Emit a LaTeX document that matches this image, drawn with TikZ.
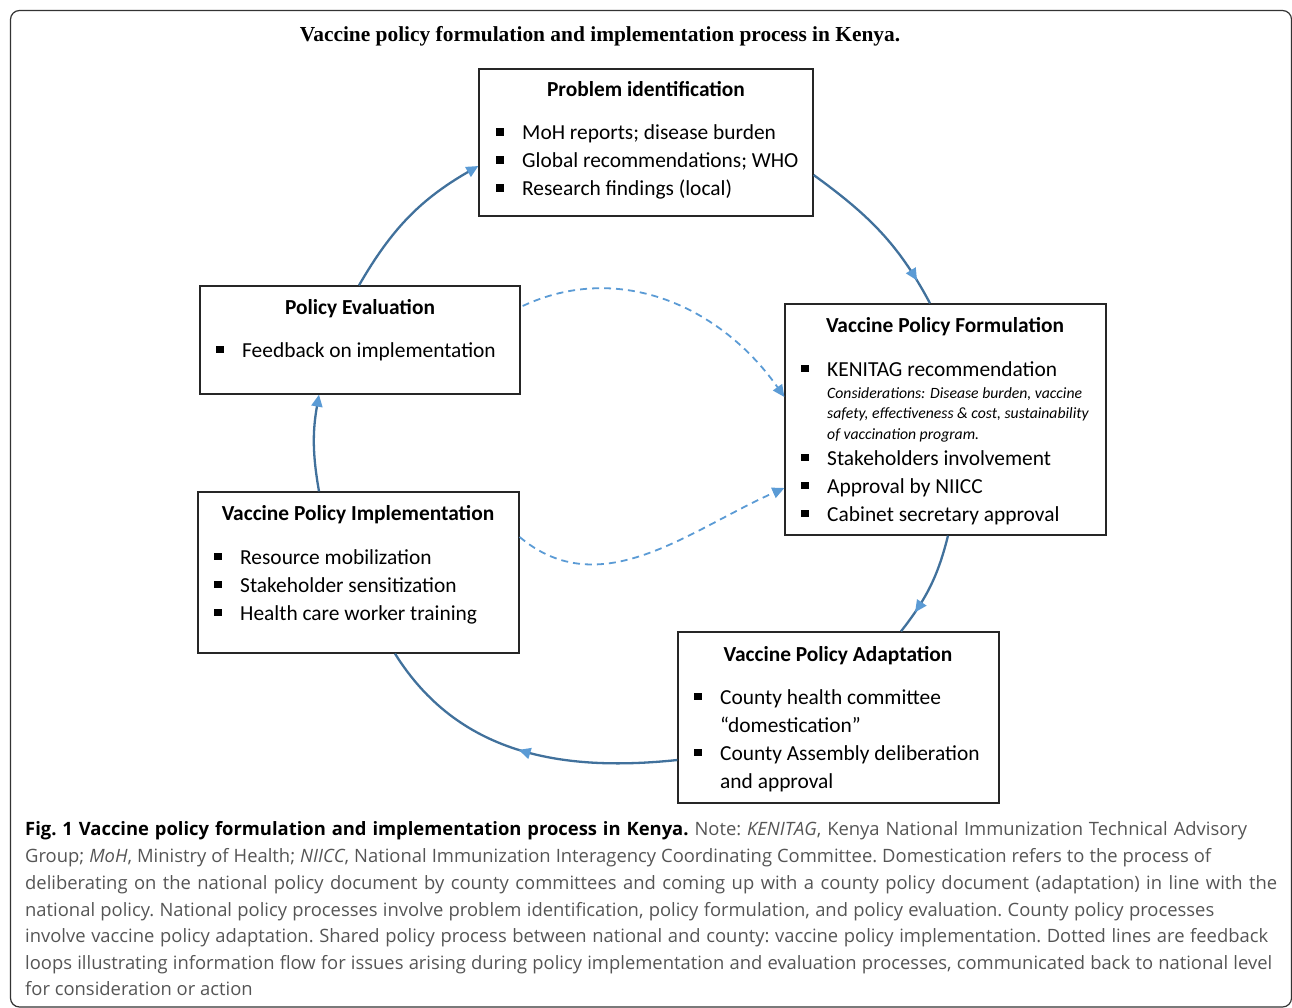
\documentclass[tikz,border=0pt]{standalone}
\usepackage{fontspec}
\setmainfont{Carlito}
\newfontfamily\titlefont{Liberation Serif}
\newfontfamily\capfont{Open Sans}
\usetikzlibrary{arrows.meta,decorations.markings,calc}
\definecolor{lineblue}{HTML}{41719C}
\definecolor{tipblue}{HTML}{5B9BD5}
\definecolor{capgray}{HTML}{555555}
\newcommand\bx{\fontsize{21.4}{25}\selectfont}
\newcommand\sx{\fontsize{15.7}{19}\selectfont}
\newcommand\cx{\fontsize{18.4}{22}\selectfont\frenchspacing}
\newcommand\bul{\makebox[26pt][l]{\rule[4pt]{7.5pt}{7.5pt}}}
\newcommand\capline[2]{\makebox[#1pt][s]{#2}}
\begin{document}
\begin{tikzpicture}[x=1pt,y=-1pt,
  box/.style={draw=black!85,line width=1.3pt,rectangle,inner sep=0pt},
  txt/.style={inner sep=0pt,anchor=base west,font=\bx},
  ttl/.style={inner sep=0pt,anchor=base,font=\bx\bfseries},
  itx/.style={inner sep=0pt,anchor=base west,font=\sx\itshape},
  captxt/.style={inner sep=0pt,anchor=base west,font=\capfont\cx,text=capgray},
  flow/.style={draw=lineblue,line width=2.3pt},
  tipend/.style={-{Triangle[length=12pt,width=11pt,color=tipblue]}},
  midtip/.style={postaction={decorate},decoration={markings,
     mark=at position #1 with {\arrow{Triangle[length=12pt,width=11pt,color=tipblue]}}}},
  fb/.style={draw=tipblue,line width=1.8pt,dash pattern=on 7pt off 5pt,
     -{Triangle[length=12pt,width=11pt,color=tipblue]}}
]
\useasboundingbox (0,0) rectangle (1292,1008);
\draw[line width=1.2pt,draw=black!80,rounded corners=9pt] (10.5,10.5) rectangle (1291.5,1007);

\node[inner sep=0pt,anchor=base,font=\titlefont\fontsize{21.4}{25}\selectfont\bfseries] (title) at (600,42)
  {Vaccine policy formulation and implementation process in Kenya.};

% boxes
\node[box,minimum width=334pt,minimum height=147pt] (prob) at (646,142.5) {};
\node[box,minimum width=320pt,minimum height=108pt] (eval) at (360,340) {};
\node[box,minimum width=321pt,minimum height=231pt] (form) at (945.5,419.5) {};
\node[box,minimum width=321pt,minimum height=161pt] (impl) at (358.5,572.5) {};
\node[box,minimum width=321pt,minimum height=171pt] (adapt) at (838.5,717.5) {};

% problem identification
\node[ttl] (probT) at (646,97) {Problem identification};
\node[txt] (p1) at (496,140) {\bul MoH reports; disease burden};
\node[txt] (p2) at (496,168) {\bul Global recommendations; WHO};
\node[txt] (p3) at (496,196) {\bul Research findings (local)};

% evaluation
\node[ttl] (evalT) at (360,314) {Policy Evaluation};
\node[txt] (e1) at (216,357) {\bul Feedback on implementation};

% formulation
\node[ttl] (formT) at (945,332) {Vaccine Policy Formulation};
\node[txt] (f1) at (801,376) {\bul KENITAG recommendation};
\node[itx] (f2) at (827,398) {Considerations: Disease burden, vaccine};
\node[itx] (f3) at (827,418.5) {safety, effectiveness \& cost, sustainability};
\node[itx] (f4) at (827,439) {of vaccination program.};
\node[txt] (f5) at (801,465) {\bul Stakeholders involvement};
\node[txt] (f6) at (801,493) {\bul Approval by NIICC};
\node[txt] (f7) at (801,521) {\bul Cabinet secretary approval};

% implementation
\node[ttl] (implT) at (358,520) {Vaccine Policy Implementation};
\node[txt] (i1) at (214,564) {\bul Resource mobilization};
\node[txt] (i2) at (214,592) {\bul Stakeholder sensitization};
\node[txt] (i3) at (214,620) {\bul Health care worker training};

% adaptation
\node[ttl] (adaptT) at (838,661) {Vaccine Policy Adaptation};
\node[txt] (a1) at (694,704) {\bul County health committee};
\node[txt] (a2) at (720,732) {“domestication”};
\node[txt] (a3) at (694,760) {\bul County Assembly deliberation};
\node[txt] (a4) at (720,788) {and approval};

% solid cycle
\draw[flow,tipend] ($(eval.north)+(-1,0)$) to[out=60,in=210] ($(prob.west)+(0,23.5)$);
\draw[flow,midtip=0.85] ($(prob.east)+(0,32.5)$) to[out=-36,in=118] ($(form.north)+(-15.5,0)$);
\draw[flow,midtip=0.78] ($(form.south)+(2.5,0)$) to[out=-104,in=52] ($(adapt.north)+(62.5,0)$);
\draw[flow,midtip=0.5] ($(adapt.west)+(0,42.5)$) to[out=186,in=-58] ($(impl.south)+(36.5,0)$);
\draw[flow,tipend] ($(impl.north)+(-39.5,0)$) to[out=100,in=260] ($(eval.south)+(-41,0)$);

% feedback loops
\draw[fb] ($(eval.east)+(2,-34)$) to[out=25,in=125] ($(form.west)+(0,-22.5)$);
\draw[fb] ($(impl.east)+(0,-35.5)$) to[out=-40,in=204] ($(form.west)+(0,68.5)$);

% caption
\node[captxt] (c1) at (25,835) {\capline{1222}{\textcolor{black}{\bfseries Fig. 1 Vaccine policy formulation and implementation process in Kenya.} Note: \textit{KENITAG}, Kenya National Immunization Technical Advisory}};
\node[captxt] (c2) at (25,862) {\capline{1186}{Group; \textit{MoH}, Ministry of Health; \textit{NIICC}, National Immunization Interagency Coordinating Committee. Domestication refers to the process of}};
\node[captxt] (c3) at (25,889) {\capline{1252}{deliberating on the national policy document by county committees and coming up with a county policy document (adaptation) in line with the}};
\node[captxt] (c4) at (25,916) {\capline{1189}{national policy. National policy processes involve problem identification, policy formulation, and policy evaluation. County policy processes}};
\node[captxt] (c5) at (25,942) {\capline{1243}{involve vaccine policy adaptation. Shared policy process between national and county: vaccine policy implementation. Dotted lines are feedback}};
\node[captxt] (c6) at (25,969) {\capline{1247}{loops illustrating information flow for issues arising during policy implementation and evaluation processes, communicated back to national level}};
\node[captxt] (c7) at (25,995) {for consideration or action};
\end{tikzpicture}
\end{document}
